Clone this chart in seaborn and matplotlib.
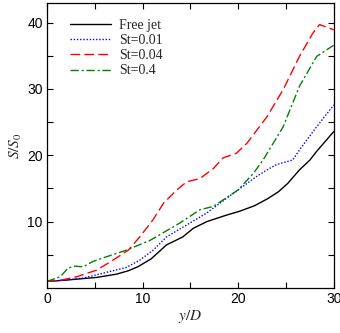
"""S/S0 growth along y/D for the free jet and three forcing Strouhal numbers."""

import matplotlib

matplotlib.use("agg")
import matplotlib.pyplot as plt
import pandas as pd
import seaborn as sns

# Free jet (black solid)
FREE_X = [0, 2, 5.2, 7.3, 8.5, 9.5, 10.9, 12.5, 14.2, 15.3, 16.7, 18.8, 20.2, 21.7, 23.0, 24.2, 25.2, 26.4, 27.5, 28.2, 30]
FREE_Y = [1.0, 1.2, 1.6, 2.1, 2.6, 3.2, 4.4, 6.5, 7.7, 9.0, 10.0, 11.0, 11.6, 12.4, 13.4, 14.5, 15.8, 17.8, 19.3, 20.6, 23.6]

# St=0.01 (blue dotted)
ST001_X = [0, 2, 3.8, 6.6, 8.3, 9.7, 11.1, 12.5, 14.6, 16.7, 18.1, 20.0, 21.9, 23.0, 24.0, 25.0, 25.7, 26.4, 28.2, 30]
ST001_Y = [1.0, 1.2, 1.5, 2.5, 3.1, 4.2, 5.7, 7.7, 9.5, 11.3, 12.8, 14.8, 16.8, 17.8, 18.6, 19.0, 19.3, 20.8, 24.3, 27.6]

# St=0.04 (red dashed)
ST004_X = [0, 1.5, 3.1, 5.2, 6.9, 8.5, 9.7, 11.1, 12.2, 13.6, 14.6, 16.0, 17.4, 18.4, 19.8, 20.9, 23.0, 24.7, 26.4, 27.8, 28.5, 30]
ST004_Y = [1.0, 1.2, 1.7, 2.7, 4.2, 5.7, 7.7, 10.3, 12.8, 14.8, 16.0, 16.5, 18.0, 19.6, 20.3, 21.8, 25.8, 29.9, 34.9, 38.4, 39.7, 38.9]

# St=0.4 (green dash-dot)
ST04_X = [0, 1.4, 2.2, 2.9, 3.8, 4.8, 6.2, 8.3, 10.8, 13.9, 16.0, 17.4, 20.0, 21.6, 22.6, 24.7, 26.4, 28.2, 30]
ST04_Y = [1.0, 1.7, 3.0, 3.3, 3.2, 4.0, 4.7, 5.7, 7.2, 9.8, 11.8, 12.3, 14.8, 17.3, 19.3, 24.3, 30.4, 34.9, 36.6]

SERIES = [
    ("Free jet", FREE_X, FREE_Y, "black", "-"),
    ("St=0.01", ST001_X, ST001_Y, "blue", (0, (1, 1.3))),
    ("St=0.04", ST004_X, ST004_Y, "red", (0, (7, 3))),
    ("St=0.4", ST04_X, ST04_Y, "green", (0, (6, 2, 1.5, 2))),
]


def main():
    sns.set_theme(style="ticks")
    plt.rcParams["font.family"] = ["Liberation Sans", "DejaVu Sans"]
    plt.rcParams["mathtext.fontset"] = "stix"
    plt.rcParams["xtick.direction"] = "in"
    plt.rcParams["ytick.direction"] = "in"

    fig = plt.figure(figsize=(3.4, 3.33), dpi=100)
    ax = fig.add_axes([0.138, 0.135, 0.844, 0.857])

    for label, xs, ys, color, ls in SERIES:
        df = pd.DataFrame({"x": xs, "y": ys})
        sns.lineplot(data=df, x="x", y="y", color=color, linestyle=ls, linewidth=1.0,
                     label=label, ax=ax, estimator=None, sort=False)

    ax.set_xlim(0, 30)
    ax.set_ylim(0, 43)
    ax.set_xticks([0, 10, 20, 30])
    ax.set_xticks([5, 15, 25], minor=True)
    ax.set_yticks([10, 20, 30, 40])
    ax.set_yticks([5, 15, 25, 35], minor=True)
    ax.tick_params(which="both", direction="in", top=True, right=True, labelsize=10,
                   length=4, width=0.8, colors="black", pad=3)
    for s in ax.spines.values():
        s.set_linewidth(0.9)
        s.set_color("black")

    serif = ["Liberation Serif", "DejaVu Serif"]
    ax.set_xlabel("$y/D$", family=serif, fontsize=11, labelpad=1)
    ax.set_ylabel("$S/S_0$", family=serif, fontsize=11, labelpad=2)

    leg = ax.legend(loc="upper left", frameon=False, prop={"family": serif, "size": 10},
                    handlelength=2.9, handletextpad=0.6, labelspacing=0.15,
                    bbox_to_anchor=(0.038, 0.986), borderaxespad=0.5)
    for line in leg.get_lines():
        line.set_linewidth(1.0)

    fig.savefig("out.png", dpi=100)
    plt.close(fig)


if __name__ == "__main__":
    main()
